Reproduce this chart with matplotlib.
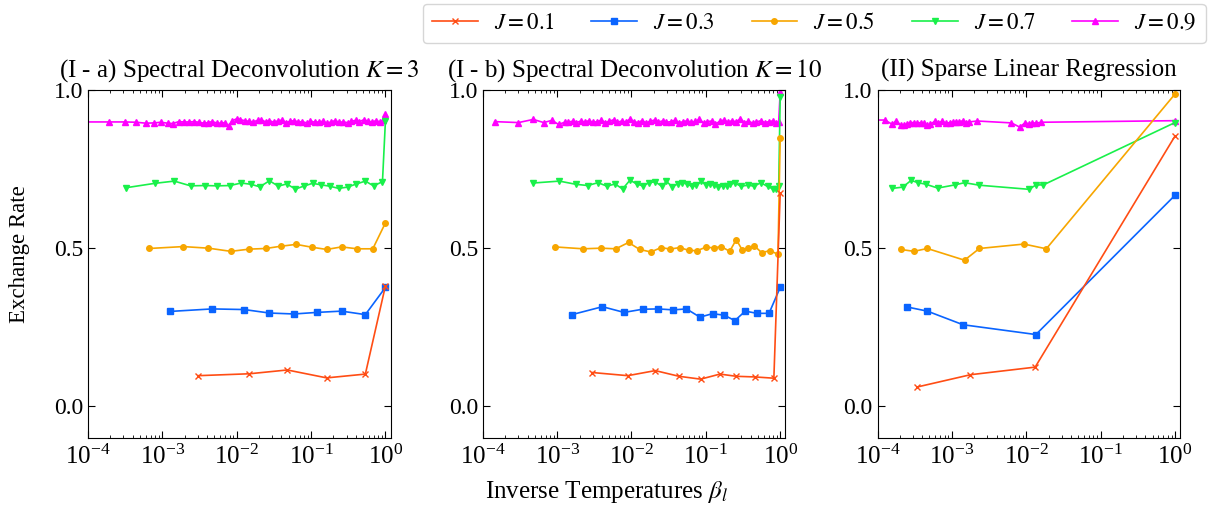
#!/usr/bin/env python
# -*- coding: utf-8 -*-

import numpy as np
import matplotlib
matplotlib.use('Agg')
import matplotlib.pyplot as plt
from matplotlib.ticker import LogLocator, NullLocator


J_LABELS = ['$J=0.1$', '$J=0.3$', '$J=0.5$', '$J=0.7$', '$J=0.9$']
COLORS = ['#ff4d14', '#0a64ff', '#f7a600', '#19f04a', '#ff00ff']
MARKERS = ['x', 's', 'o', 'v', '^']
TITLES = [
    '(I - a) Spectral Deconvolution $K=3$',
    '(I - b) Spectral Deconvolution $K=10$',
    '(II) Sparse Linear Regression',
]

# ---- (I - a) : log10(beta) and exchange rate per J
a_logb_01 = [-2.52, -1.83, -1.32, -0.79, -0.27, 0.00]
a_rate_01 = [0.097, 0.103, 0.115, 0.090, 0.102, 0.381]
a_logb_03 = [-2.90, -2.33, -1.90, -1.56, -1.23, -0.92, -0.59, -0.27, 0.00]
a_rate_03 = [0.300, 0.308, 0.306, 0.295, 0.292, 0.297, 0.301, 0.290, 0.376]
a_logb_05 = [-3.18, -2.72, -2.38, -2.08, -1.83, -1.61, -1.41, -1.20, -0.99,
             -0.79, -0.59, -0.38, -0.17, 0.00]
a_rate_05 = [0.499, 0.505, 0.500, 0.490, 0.497, 0.499, 0.506, 0.512, 0.503,
             0.496, 0.504, 0.498, 0.498, 0.580]
a_logb_07 = [-3.49, -3.10, -2.84, -2.62, -2.43, -2.26, -2.09, -1.94, -1.81,
             -1.69, -1.56, -1.44, -1.33, -1.21, -1.10, -0.98, -0.86, -0.75,
             -0.63, -0.51, -0.39, -0.27, -0.16, -0.04, 0.00]
a_rate_07 = [0.691, 0.705, 0.712, 0.697, 0.698, 0.697, 0.698, 0.706, 0.702,
             0.694, 0.713, 0.696, 0.703, 0.687, 0.696, 0.705, 0.700, 0.696,
             0.689, 0.693, 0.703, 0.712, 0.697, 0.710, 0.903]
a_logb_09 = [-4.30, -3.72, -3.50, -3.35, -3.22, -3.11, -3.02, -2.93, -2.86, -2.78,
             -2.71, -2.64, -2.57, -2.51, -2.44, -2.39, -2.33, -2.26, -2.21, -2.16,
             -2.11, -2.06, -2.00, -1.95, -1.89, -1.84, -1.78, -1.72, -1.67, -1.61,
             -1.56, -1.50, -1.45, -1.39, -1.34, -1.28, -1.23, -1.17, -1.12, -1.06,
             -1.01, -0.95, -0.90, -0.84, -0.79, -0.73, -0.68, -0.62, -0.57, -0.51,
             -0.46, -0.40, -0.35, -0.29, -0.24, -0.18, -0.13, -0.07, -0.03, 0.00]
a_rate_09 = [0.899, 0.899, 0.899, 0.898, 0.895, 0.896, 0.898, 0.895, 0.894, 0.900,
             0.899, 0.899, 0.900, 0.898, 0.895, 0.897, 0.900, 0.895, 0.895, 0.897,
             0.886, 0.903, 0.909, 0.906, 0.903, 0.901, 0.899, 0.904, 0.906, 0.899,
             0.903, 0.898, 0.902, 0.905, 0.897, 0.901, 0.903, 0.899, 0.900, 0.896,
             0.902, 0.898, 0.899, 0.901, 0.895, 0.899, 0.903, 0.898, 0.899, 0.897,
             0.901, 0.904, 0.900, 0.906, 0.902, 0.898, 0.903, 0.899, 0.905, 0.924]

# ---- (I - b)
b_logb_01 = [-2.53, -2.05, -1.68, -1.36, -1.07, -0.81, -0.59, -0.34, -0.085, 0.00]
b_rate_01 = [0.107, 0.097, 0.113, 0.095, 0.086, 0.102, 0.095, 0.093, 0.089, 0.673]
b_logb_03 = [-2.80, -2.39, -2.10, -1.85, -1.64, -1.44, -1.26, -1.08, -0.91,
             -0.75, -0.61, -0.47, -0.31, -0.15, 0.00]
b_rate_03 = [0.290, 0.315, 0.297, 0.307, 0.308, 0.305, 0.308, 0.282, 0.293,
             0.288, 0.271, 0.301, 0.294, 0.294, 0.376]
b_logb_05 = [-3.03, -2.65, -2.41, -2.21, -2.04, -1.89, -1.74, -1.60, -1.48, -1.35,
             -1.23, -1.12, -1.00, -0.89, -0.79, -0.68, -0.59, -0.51, -0.43, -0.35,
             -0.25, -0.14, -0.03, 0.00]
b_rate_05 = [0.504, 0.498, 0.500, 0.498, 0.518, 0.496, 0.488, 0.502, 0.497, 0.502,
             0.493, 0.492, 0.503, 0.501, 0.505, 0.490, 0.527, 0.494, 0.500, 0.508,
             0.486, 0.492, 0.481, 0.848]
b_logb_07 = [-3.32, -2.97, -2.75, -2.59, -2.45, -2.33, -2.22, -2.12, -2.02, -1.93,
             -1.85, -1.76, -1.68, -1.59, -1.53, -1.45, -1.38, -1.32, -1.25, -1.19,
             -1.13, -1.06, -1.00, -0.94, -0.89, -0.83, -0.77, -0.72, -0.67, -0.61,
             -0.53, -0.43, -0.35, -0.26, -0.17, -0.10, -0.06, -0.02, 0.00]
b_rate_07 = [0.706, 0.712, 0.702, 0.698, 0.707, 0.696, 0.703, 0.687, 0.715, 0.703,
             0.697, 0.707, 0.710, 0.695, 0.711, 0.694, 0.703, 0.707, 0.703, 0.695,
             0.699, 0.711, 0.700, 0.703, 0.700, 0.694, 0.697, 0.695, 0.702, 0.706,
             0.696, 0.699, 0.696, 0.707, 0.695, 0.688, 0.686, 0.695, 0.977]
b_logb_09 = [-3.84, -3.52, -3.32, -3.18, -3.07, -2.98, -2.90,
             -2.85, -2.79, -2.74, -2.68, -2.63, -2.57, -2.52, -2.46, -2.41, -2.35,
             -2.30, -2.24, -2.19, -2.13, -2.08, -2.02, -1.97, -1.91, -1.86, -1.80,
             -1.75, -1.69, -1.64, -1.58, -1.53, -1.47, -1.42, -1.36, -1.31, -1.25,
             -1.20, -1.14, -1.09, -1.03, -0.98, -0.92, -0.87, -0.81, -0.76, -0.70,
             -0.65, -0.59, -0.54, -0.48, -0.43, -0.37, -0.32, -0.26, -0.21, -0.15,
             -0.10, -0.05, -0.02, 0.00]
b_rate_09 = [0.900, 0.897, 0.907, 0.897, 0.904, 0.891, 0.898,
             0.899, 0.901, 0.897, 0.902, 0.899, 0.903, 0.898, 0.900, 0.904, 0.897,
             0.901, 0.906, 0.898, 0.902, 0.899, 0.908, 0.900, 0.897, 0.903, 0.896,
             0.901, 0.905, 0.899, 0.902, 0.898, 0.900, 0.904, 0.897, 0.899, 0.903,
             0.898, 0.901, 0.907, 0.896, 0.900, 0.902, 0.893, 0.901, 0.905, 0.898,
             0.903, 0.899, 0.909, 0.897, 0.901, 0.896, 0.899, 0.903, 0.897, 0.900,
             0.902, 0.895, 0.899, 0.995]

# ---- (II)
c_logb_01 = [-3.47, -2.75, -1.88, 0.00]
c_rate_01 = [0.061, 0.100, 0.124, 0.854]
c_logb_03 = [-3.60, -3.33, -2.85, -1.87, 0.00]
c_rate_03 = [0.314, 0.301, 0.258, 0.227, 0.667]
c_logb_05 = [-3.69, -3.51, -3.33, -2.83, -2.63, -2.03, -1.73, 0.00]
c_rate_05 = [0.496, 0.490, 0.499, 0.462, 0.499, 0.513, 0.498, 0.987]
c_logb_07 = [-3.80, -3.66, -3.55, -3.45, -3.35, -3.19, -2.96, -2.83, -2.63,
             -1.96, -1.87, -1.77, 0.00]
c_rate_07 = [0.689, 0.693, 0.714, 0.707, 0.702, 0.690, 0.700, 0.707, 0.699,
             0.686, 0.700, 0.700, 0.897]
c_logb_09 = [-4.30, -3.90, -3.80, -3.75, -3.69, -3.65, -3.60, -3.56, -3.51, -3.47,
             -3.42, -3.38, -3.33, -3.29, -3.23, -3.18, -3.13, -3.08, -3.03, -2.99,
             -2.94, -2.90, -2.85, -2.81, -2.77, -2.66, -2.20, -2.09, -2.01, -1.96,
             -1.92, -1.87, -1.80, 0.00]
c_rate_09 = [0.905, 0.905, 0.891, 0.903, 0.889, 0.890, 0.892, 0.897, 0.897, 0.895,
             0.897, 0.895, 0.888, 0.892, 0.901, 0.897, 0.901, 0.895, 0.897, 0.898,
             0.900, 0.899, 0.903, 0.897, 0.899, 0.902, 0.896, 0.883, 0.897, 0.892,
             0.897, 0.895, 0.898, 0.903]

PANELS = [
    [(a_logb_01, a_rate_01), (a_logb_03, a_rate_03), (a_logb_05, a_rate_05),
     (a_logb_07, a_rate_07), (a_logb_09, a_rate_09)],
    [(b_logb_01, b_rate_01), (b_logb_03, b_rate_03), (b_logb_05, b_rate_05),
     (b_logb_07, b_rate_07), (b_logb_09, b_rate_09)],
    [(c_logb_01, c_rate_01), (c_logb_03, c_rate_03), (c_logb_05, c_rate_05),
     (c_logb_07, c_rate_07), (c_logb_09, c_rate_09)],
]


def main():

    plt.rcParams['font.family'] = ['Liberation Serif', 'DejaVu Serif']
    plt.rcParams['mathtext.fontset'] = 'stix'

    fig, axes = plt.subplots(1, 3, figsize = (12.14, 5.09), dpi = 100)
    fig.subplots_adjust(left = 0.0725, right = 0.972, bottom = 0.1395,
                        top = 0.8232, wspace = 0.305)

    for ax, panel, title in zip(axes, PANELS, TITLES):
        # draw J=0.9 first so lower J lines sit on top
        for k in range(len(panel) - 1, -1, -1):
            logb, rate = panel[k]
            ax.plot(
                np.power(10.0, logb), rate,
                color = COLORS[k],
                marker = MARKERS[k],
                markersize = 4 if MARKERS[k] != 'x' else 4.5,
                markeredgewidth = 1.0,
                linewidth = 1.2,
                label = J_LABELS[k],
            )
        ax.set_xscale('log')
        ax.set_xlim(1e-4, 1.17)
        ax.set_ylim(-0.1, 1.0)
        ax.set_yticks([0.0, 0.5, 1.0])
        ax.yaxis.set_minor_locator(NullLocator())
        ax.xaxis.set_major_locator(LogLocator(base = 10, numticks = 10))
        ax.tick_params(which = 'both', direction = 'in', top = True, right = True)
        ax.tick_params(axis = 'y', labelsize = 17)
        ax.tick_params(axis = 'x', labelsize = 18, pad = 5)
        ax.tick_params(which = 'major', length = 5)
        ax.tick_params(which = 'minor', length = 2.5)
        ax.set_title(title, fontsize = 18, pad = 10)

    fig.text(0.016, 0.5, 'Exchange Rate', rotation = 90, ha = 'center',
             va = 'center', fontsize = 16.5)
    fig.text(0.5, 0.008, r'Inverse Temperatures $\beta_l$', ha = 'center',
             va = 'bottom', fontsize = 18)

    handles, labels = axes[0].get_legend_handles_labels()
    fig.legend(handles[::-1], labels[::-1], ncol = 5, loc = 'upper right',
               bbox_to_anchor = (0.995, 0.997), borderaxespad = 0.1,
               fontsize = 16.5, handlelength = 2.0, handletextpad = 0.7,
               columnspacing = 1.6)

    fig.savefig('out.png')


if __name__ == '__main__':
    main()
